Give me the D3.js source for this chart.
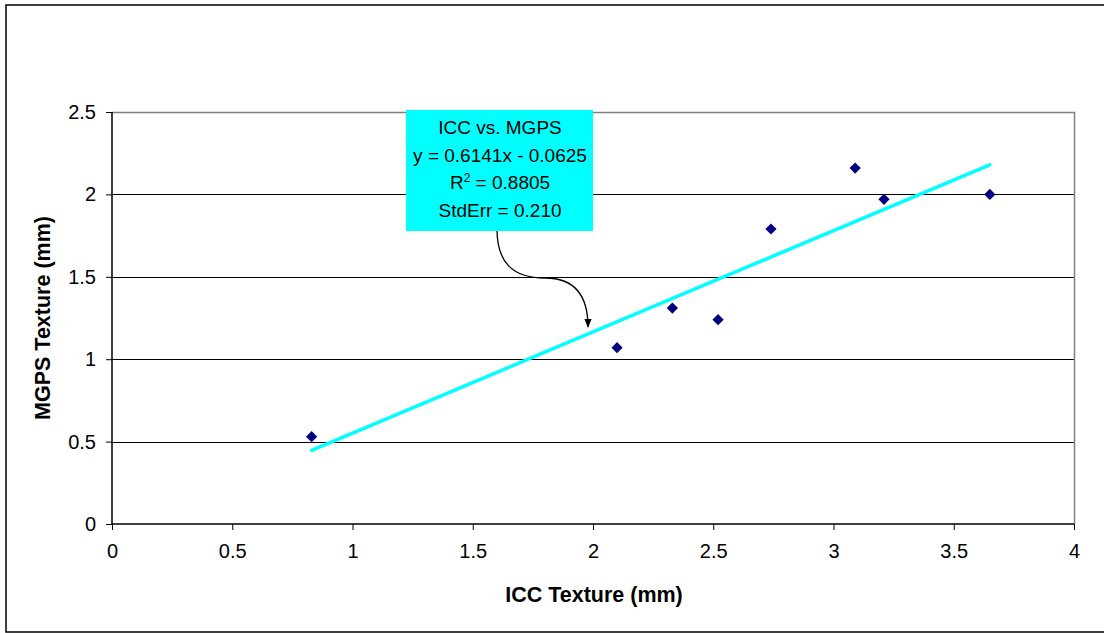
<!DOCTYPE html>
<html>
<head>
<meta charset="utf-8">
<script src="https://cdn.jsdelivr.net/npm/d3@7"></script>
<style>
  html, body { margin: 0; padding: 0; background: #fff; }
  svg { display: block; font-family: "Liberation Sans", Arial, sans-serif; }
</style>
</head>
<body>
<svg id="chart" width="1104" height="633"></svg>
<script>
// ---- data ----
const icc  = [0.83, 2.10, 2.33, 2.52, 2.74, 3.09, 3.21, 3.65];
const mgps = [0.53, 1.07, 1.31, 1.24, 1.79, 2.16, 1.97, 2.00];
const trendCoef = [0.6141, -0.0625];           // slope, intercept
const xTicks = [0, 0.5, 1, 1.5, 2, 2.5, 3, 3.5, 4];
const yTicks = [0, 0.5, 1, 1.5, 2, 2.5];
const annotationLines = ["ICC vs. MGPS", "y = 0.6141x - 0.0625", "R2 = 0.8805", "StdErr = 0.210"];
const xTitle = "ICC Texture (mm)";
const yTitle = "MGPS Texture (mm)";

const svg = d3.select("#chart");
const pL = 112, pR = 1074, pT = 112, pB = 524;

// outer frame
svg.append("rect").attr("x", 6).attr("y", 5).attr("width", 1120).attr("height", 627)
  .attr("fill", "none").attr("stroke", "#000").attr("stroke-width", 1.5);

const x = d3.scaleLinear().domain([0, 4]).range([pL, pR]);
const y = d3.scaleLinear().domain([0, 2.5]).range([pB, pT]);

// gridlines
svg.append("g").selectAll("line").data(yTicks.filter(d => d > 0 && d < 2.5)).join("line")
  .attr("x1", pL).attr("x2", pR)
  .attr("y1", d => Math.round(y(d)) + 0.5).attr("y2", d => Math.round(y(d)) + 0.5)
  .attr("stroke", "#000").attr("stroke-width", 1);

// plot area border (top/right gray)
svg.append("path")
  .attr("d", `M${pL},${pT + 0.5}H${pR + 0.5}V${pB}`)
  .attr("fill", "none").attr("stroke", "#808080").attr("stroke-width", 1.5);

// axes
const xAxis = d3.axisBottom(x).tickValues(xTicks).tickSize(6).tickPadding(14)
  .tickFormat(d3.format("~g"));
const gx = svg.append("g").attr("transform", `translate(0,${pB})`).call(xAxis);
gx.select(".domain").attr("stroke", "#000").attr("stroke-width", 1.5).attr("d", `M${pL},0H${pR}`);
gx.selectAll(".tick line").attr("stroke", "#000");
gx.selectAll("text").attr("font-size", 20).attr("fill", "#000")
  .attr("font-family", "Liberation Sans, Arial, sans-serif");

const yAxis = d3.axisLeft(y).tickValues(yTicks).tickSize(6).tickPadding(10)
  .tickFormat(d3.format("~g"));
const gy = svg.append("g").attr("transform", `translate(${pL},0)`).call(yAxis);
gy.select(".domain").attr("stroke", "#000").attr("stroke-width", 1.5).attr("d", `M0,${pT}V${pB}`);
gy.selectAll(".tick line").attr("stroke", "#000");
gy.selectAll("text").attr("font-size", 20).attr("fill", "#000")
  .attr("font-family", "Liberation Sans, Arial, sans-serif");

// trend line
const xExt = d3.extent(icc);
svg.append("line")
  .attr("x1", x(xExt[0])).attr("y1", y(trendCoef[0] * xExt[0] + trendCoef[1]))
  .attr("x2", x(xExt[1])).attr("y2", y(trendCoef[0] * xExt[1] + trendCoef[1]))
  .attr("stroke", "#00FFFF").attr("stroke-width", 3.5).attr("stroke-linecap", "round");

// points
const pts = icc.map((v, i) => ({ x: v, y: mgps[i] }));
const diamond = d3.symbol().type(d3.symbolDiamond2).size(80);
svg.append("g").selectAll("path").data(pts).join("path")
  .attr("d", diamond)
  .attr("transform", d => `translate(${x(d.x)},${y(d.y)})`)
  .attr("fill", "#000080");

// annotation arrow
svg.append("defs").append("marker").attr("id", "arr")
  .attr("viewBox", "0 0 10 10").attr("refX", 9).attr("refY", 5)
  .attr("markerWidth", 7).attr("markerHeight", 7).attr("orient", "auto")
  .append("path").attr("d", "M0,1L10,5L0,9Z").attr("fill", "#000");
svg.append("path")
  .attr("d", "M497,229 C497,262 512,278 545,278 C574,278 588,295 588,327")
  .attr("fill", "none").attr("stroke", "#000").attr("stroke-width", 1.3)
  .attr("marker-end", "url(#arr)");

// annotation box
svg.append("rect").attr("x", 406).attr("y", 110).attr("width", 187).attr("height", 121)
  .attr("fill", "#00FFFF");
const ann = svg.append("g").attr("font-size", 19).attr("fill", "#000").attr("text-anchor", "middle");
annotationLines.forEach((t, i) => {
  const tx = ann.append("text").attr("x", 500).attr("y", 134 + i * 27.7);
  if (t.startsWith("R2")) {
    tx.append("tspan").text("R");
    tx.append("tspan").attr("baseline-shift", "super").attr("font-size", 12).text("2");
    tx.append("tspan").text(t.slice(2));
  } else {
    tx.text(t);
  }
});

// axis titles
svg.append("text").attr("x", (pL + pR) / 2 + 1).attr("y", 602)
  .attr("text-anchor", "middle").attr("font-weight", "bold").attr("font-size", 21.5)
  .text(xTitle);
svg.append("text").attr("transform", `translate(50,${(pT + pB) / 2}) rotate(-90)`)
  .attr("text-anchor", "middle").attr("font-weight", "bold").attr("font-size", 21.5)
  .text(yTitle);
</script>
</body>
</html>
